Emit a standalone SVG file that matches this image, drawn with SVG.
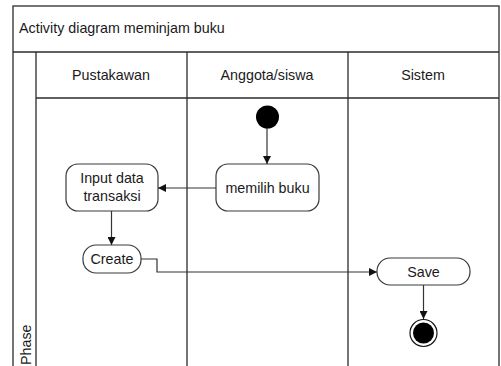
<svg xmlns="http://www.w3.org/2000/svg" width="501" height="366" viewBox="0 0 501 366">
<style>
.frame{fill:none;stroke:#2b2b2b;stroke-width:1.3}
.node{fill:#fff;stroke:#3a3a3a;stroke-width:1.2}
.t{font-family:"Liberation Sans",Arial,sans-serif;font-size:14.3px;fill:#1a1a1a}
.c{text-anchor:middle}
.edge{fill:none;stroke:#333;stroke-width:1.2}
</style>
<defs>
<marker id="arr" viewBox="0 0 10 10" refX="10" refY="5" markerWidth="8" markerHeight="8" markerUnits="userSpaceOnUse" orient="auto">
<path d="M0,0 L10,5 L0,10 z" fill="#111"/>
</marker>
</defs>
<rect width="501" height="366" fill="#fff"/>
<g id="pool">
<rect class="frame" x="13" y="6" width="486" height="370"/>
<line class="frame" x1="13" y1="52" x2="499" y2="52"/>
<line class="frame" x1="36" y1="52" x2="36" y2="366"/>
<line class="frame" x1="36" y1="98" x2="499" y2="98"/>
<line class="frame" x1="187" y1="52" x2="187" y2="366"/>
<line class="frame" x1="348" y1="52" x2="348" y2="366"/>
<text class="t" x="19" y="33" font-size="14.5">Activity diagram meminjam buku</text>
<text class="t c" x="111" y="80" font-size="13.8">Pustakawan</text>
<text class="t c" x="267" y="80" font-size="13.8">Anggota/siswa</text>
<text class="t c" x="423" y="80" font-size="13.8">Sistem</text>
<text class="t" transform="translate(31,365) rotate(-90)" font-size="13">Phase</text>
</g>
<g id="connectors">
<line class="edge" x1="267" y1="128" x2="267" y2="164" marker-end="url(#arr)"/>
<line class="edge" x1="216" y1="188" x2="158" y2="188" marker-end="url(#arr)"/>
<line class="edge" x1="111.5" y1="211" x2="111.5" y2="245" marker-end="url(#arr)"/>
<polyline class="edge" points="141,259 157,259 157,272 377,272" marker-end="url(#arr)"/>
<line class="edge" x1="423.5" y1="285" x2="423.5" y2="319" marker-end="url(#arr)"/>
</g>
<g id="start">
<circle cx="267.5" cy="117" r="11.5" fill="#000"/>
</g>
<g id="memilih-buku">
<rect class="node" x="216" y="164" width="103" height="47" rx="12"/>
<text class="t c" x="267.5" y="193">memilih buku</text>
</g>
<g id="input-data">
<rect class="node" x="66" y="164" width="92" height="47" rx="12"/>
<text class="t c" x="112" y="183">Input data</text>
<text class="t c" x="112" y="201">transaksi</text>
</g>
<g id="create">
<rect class="node" x="83" y="245" width="58" height="28" rx="13"/>
<text class="t c" x="112" y="264">Create</text>
</g>
<g id="save">
<rect class="node" x="377" y="258" width="93" height="27" rx="13"/>
<text class="t c" x="423.5" y="276.5">Save</text>
</g>
<g id="end">
<circle cx="423.5" cy="333" r="13.5" fill="#fff" stroke="#111" stroke-width="1.2"/>
<circle cx="423.5" cy="333" r="10.5" fill="#000"/>
</g>
</svg>
